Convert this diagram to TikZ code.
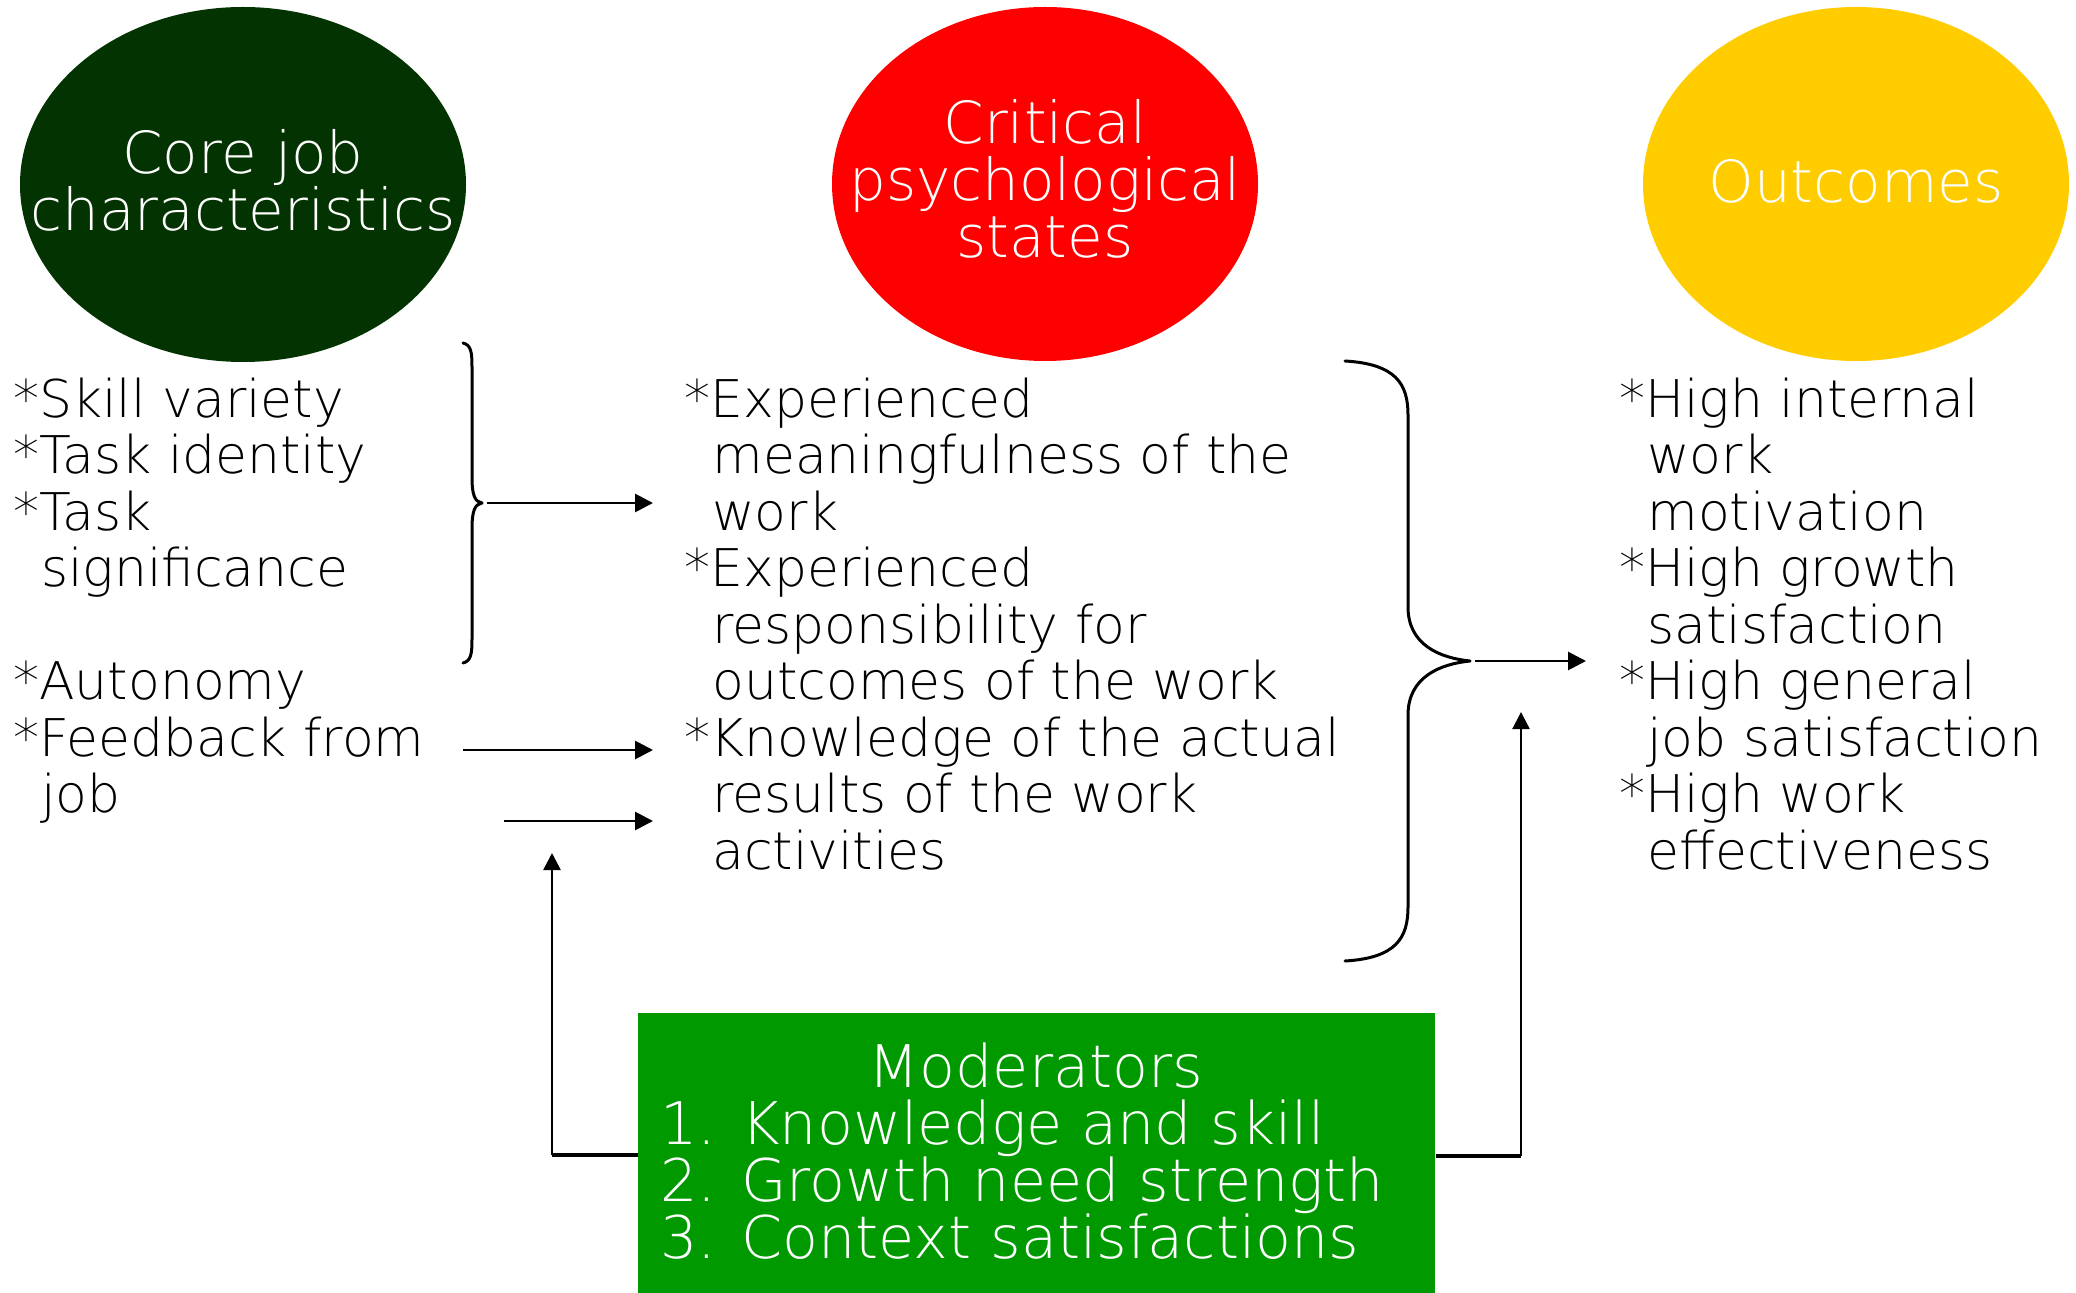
\documentclass[tikz,border=0pt]{standalone}
\usepackage{fontspec}
\IfFontExistsTF{DejaVu Sans ExtraLight}{\setmainfont{DejaVu Sans ExtraLight}}{\setmainfont{DejaVu Sans}}
\usetikzlibrary{arrows.meta,shapes.geometric}
\definecolor{coregreen}{RGB}{3,51,0}
\definecolor{statered}{RGB}{255,0,0}
\definecolor{outyellow}{RGB}{255,204,0}
\definecolor{boxgreen}{RGB}{0,153,0}
\newcommand{\itemstar}{\makebox[13pt][l]{*}}
\newcommand{\itemcont}{\hspace*{14pt}}
\newcommand{\liststrut}{\rule{0pt}{20pt}}
\newcommand{\titlestrut}{\rule{0pt}{23pt}}
\tikzset{
  oval/.style={ellipse, draw=none, inner sep=0pt},
  listtext/.style={anchor=north west, inner sep=0pt, align=left,
    font=\fontsize{26pt}{28.25pt}\selectfont},
  titletext/.style={anchor=north, inner sep=0pt, align=center, text=white,
    font=\fontsize{29pt}{28.5pt}\selectfont},
  modtext/.style={inner sep=0pt, text=white,
    font=\fontsize{29.4pt}{28.5pt}\selectfont},
  arr/.style={line width=1.4pt, -{Triangle[length=9pt,width=9pt]}},
  thinarr/.style={line width=1.1pt, -{Triangle[length=8.5pt,width=8.5pt]}},
  bracestyle/.style={line width=1.5pt, line join=round, line cap=round},
  baseline/.style={line width=2pt}
}
\begin{document}
\begin{tikzpicture}[x=0.5pt,y=-0.5pt]
\useasboundingbox (0,0) rectangle (2076,1293);

% ellipses
\node[oval, fill=coregreen, minimum width=223pt, minimum height=177.5pt] (core) at (243,184.5) {};
\node[oval, fill=statered, minimum width=213pt, minimum height=177pt] (states) at (1045,184) {};
\node[oval, fill=outyellow, minimum width=213pt, minimum height=177pt] (outc) at (1856,184) {};

\node[titletext] (coret) at (243,127) {\titlestrut Core job\\characteristics};
\node[titletext] (statest) at (1045,97) {\titlestrut Critical\\psychological\\states};
\node[titletext] (outct) at (1856,156) {\titlestrut Outcomes};

% lists
\node[listtext] (leftA) at (13,377) {\liststrut\itemstar Skill variety\\\itemstar Task identity\\\itemstar Task\\\itemcont significance};
\node[listtext] (leftB) at (13,659.5) {\liststrut\itemstar Autonomy\\\itemstar Feedback from\\\itemcont job};
\node[listtext] (mid) at (684,377) {\liststrut\itemstar Experienced\\\itemcont meaningfulness of the\\\itemcont work\\\itemstar Experienced\\\itemcont responsibility for\\\itemcont outcomes of the work\\\itemstar Knowledge of the actual\\\itemcont results of the work\\\itemcont activities};
\node[listtext] (right) at (1619,377) {\liststrut\itemstar High internal\\\itemcont work\\\itemcont motivation\\\itemstar High growth\\\itemcont satisfaction\\\itemstar High general\\\itemcont job satisfaction\\\itemstar High work\\\itemcont effectiveness};

% moderators box
\node[fill=boxgreen, draw=none, inner sep=0pt, anchor=north west, minimum width=398.5pt, minimum height=140pt] (mod) at (638,1013) {};
\node[modtext, anchor=north] (modt) at (1036,1041) {\titlestrut Moderators};
\node[modtext, anchor=north west, align=left] (modl) at (660,1098) {\titlestrut 1. Knowledge and skill\\2. Growth need strength\\3. Context satisfactions};

% coordinates
\coordinate (lbtip) at (482,503);
\coordinate (a1s) at (487,503);
\coordinate (a1e) at (653,503);
\coordinate (a2s) at (463,750);
\coordinate (a2e) at (653,750);
\coordinate (a3s) at (504,821);
\coordinate (a3e) at (653,821);
\coordinate (lcorner) at (552,1155);
\coordinate (lup) at (552,853);
\coordinate (rbtip) at (1470,661);
\coordinate (a4s) at (1475,661);
\coordinate (a4e) at (1586,661);
\coordinate (rcorner) at (1521,1156);
\coordinate (rup) at (1521,712);

% left brace
\draw[bracestyle] (463,343) .. controls (471,345) and (472,352) .. (472,367) -- (472,478)
  .. controls (472,495) and (475,502) .. (lbtip)
  .. controls (475,504) and (472,511) .. (472,528) -- (472,639)
  .. controls (472,654) and (471,661) .. (463,663);
% right brace
\draw[bracestyle] (1345,361) .. controls (1396,364) and (1408,384) .. (1408,415) -- (1408,607)
  .. controls (1408,645) and (1440,658) .. (rbtip)
  .. controls (1440,664) and (1408,677) .. (1408,715) -- (1408,907)
  .. controls (1408,938) and (1396,958) .. (1345,961);

% arrows
\draw[arr] (a1s) -- (a1e);
\draw[arr] (a2s) -- (a2e);
\draw[arr] (a3s) -- (a3e);
\draw[arr] (a4s) -- (a4e);
\draw[baseline] (lcorner) -- (lcorner -| mod.west);
\draw[thinarr, line width=1.3pt] (lcorner) -- (lup);
\draw[baseline] (mod.east |- rcorner) -- (rcorner);
\draw[thinarr] (rcorner) -- (rup);
\end{tikzpicture}
\end{document}
